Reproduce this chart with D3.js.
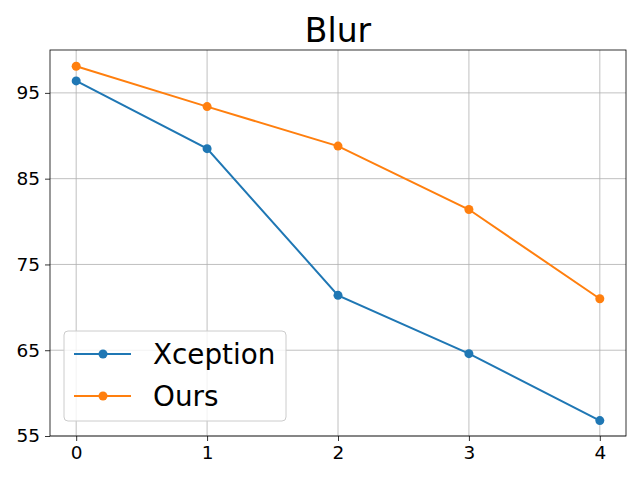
<!DOCTYPE html>
<html>
<head>
<meta charset="utf-8">
<script src="https://cdn.jsdelivr.net/npm/d3@7"></script>
<style>
  body { margin: 0; background: #fff; }
  text { font-family: "DejaVu Sans", sans-serif; }
</style>
</head>
<body>
<div id="chart"></div>
<script>
// data
var steps = [0, 1, 2, 3, 4];
var xception = [96.4, 88.5, 71.4, 64.6, 56.8];
var ours = [98.1, 93.4, 88.8, 81.4, 71.0];
var yTicks = [55, 65, 75, 85, 95];
var seriesNames = ["Xception", "Ours"];
var seriesColors = ["#1f77b4", "#ff7f0e"];

var W = 640, H = 480;
var m = {left: 50, right: 14, top: 50, bottom: 44};

var svg = d3.select("#chart").append("svg")
    .attr("width", W)
    .attr("height", H);

var x = d3.scaleLinear().domain([-0.2, 4.2]).range([m.left, W - m.right]);
var y = d3.scaleLinear().domain([55, 100]).range([H - m.bottom, m.top]);

// grid
svg.append("g").selectAll("line")
    .data(steps).enter().append("line")
    .attr("x1", d => x(d)).attr("x2", d => x(d))
    .attr("y1", m.top).attr("y2", H - m.bottom)
    .attr("stroke", "#b0b0b0").attr("stroke-width", 0.8);
svg.append("g").selectAll("line")
    .data(yTicks).enter().append("line")
    .attr("x1", m.left).attr("x2", W - m.right)
    .attr("y1", d => y(d)).attr("y2", d => y(d))
    .attr("stroke", "#b0b0b0").attr("stroke-width", 0.8);

// axes
var xAxis = svg.append("g")
    .attr("transform", "translate(0," + (H - m.bottom) + ")")
    .call(d3.axisBottom(x).tickValues(steps).tickFormat(d3.format("d"))
      .tickSize(5).tickPadding(5).tickSizeOuter(0));
var yAxis = svg.append("g")
    .attr("transform", "translate(" + m.left + ",0)")
    .call(d3.axisLeft(y).tickValues(yTicks).tickFormat(d3.format("d"))
      .tickSize(5).tickPadding(5).tickSizeOuter(0));
[xAxis, yAxis].forEach(function(a){
  a.select(".domain").remove();
  a.selectAll("line").attr("stroke", "#000").attr("stroke-width", 0.8);
  a.selectAll("text").style("font-family", "DejaVu Sans").style("font-size", "18.5px").attr("fill", "#000");
});

// frame
svg.append("rect")
    .attr("x", m.left).attr("y", m.top)
    .attr("width", W - m.left - m.right).attr("height", H - m.top - m.bottom)
    .attr("fill", "none").attr("stroke", "#000").attr("stroke-width", 0.8);

// lines
var line = d3.line().x((d, i) => x(steps[i])).y(d => y(d));
[xception, ours].forEach(function(s, k){
  svg.append("path")
    .datum(s)
    .attr("d", line)
    .attr("fill", "none")
    .attr("stroke", seriesColors[k])
    .attr("stroke-width", 2);
  svg.append("g").selectAll("circle")
    .data(s).enter().append("circle")
    .attr("cx", (d, i) => x(steps[i]))
    .attr("cy", d => y(d))
    .attr("r", 4.5)
    .attr("fill", seriesColors[k]);
});

// title
svg.append("text")
    .attr("x", (m.left + W - m.right) / 2)
    .attr("y", 42)
    .attr("text-anchor", "middle")
    .style("font-size", "33px")
    .text("Blur");

// legend
var lg = svg.append("g").attr("transform", "translate(64,331)");
lg.append("rect")
    .attr("width", 222).attr("height", 90)
    .attr("rx", 4)
    .attr("fill", "#fff").attr("fill-opacity", 0.8)
    .attr("stroke", "#cccccc").attr("stroke-width", 1);
seriesNames.forEach(function(name, k){
  var ry = 23 + k * 42;
  lg.append("line")
    .attr("x1", 10).attr("x2", 67)
    .attr("y1", ry).attr("y2", ry)
    .attr("stroke", seriesColors[k]).attr("stroke-width", 2);
  lg.append("circle")
    .attr("cx", 39).attr("cy", ry).attr("r", 4.5)
    .attr("fill", seriesColors[k]);
  lg.append("text")
    .attr("x", 89).attr("y", ry + 10)
    .style("font-size", "27.8px")
    .text(name);
});
</script>
</body>
</html>
